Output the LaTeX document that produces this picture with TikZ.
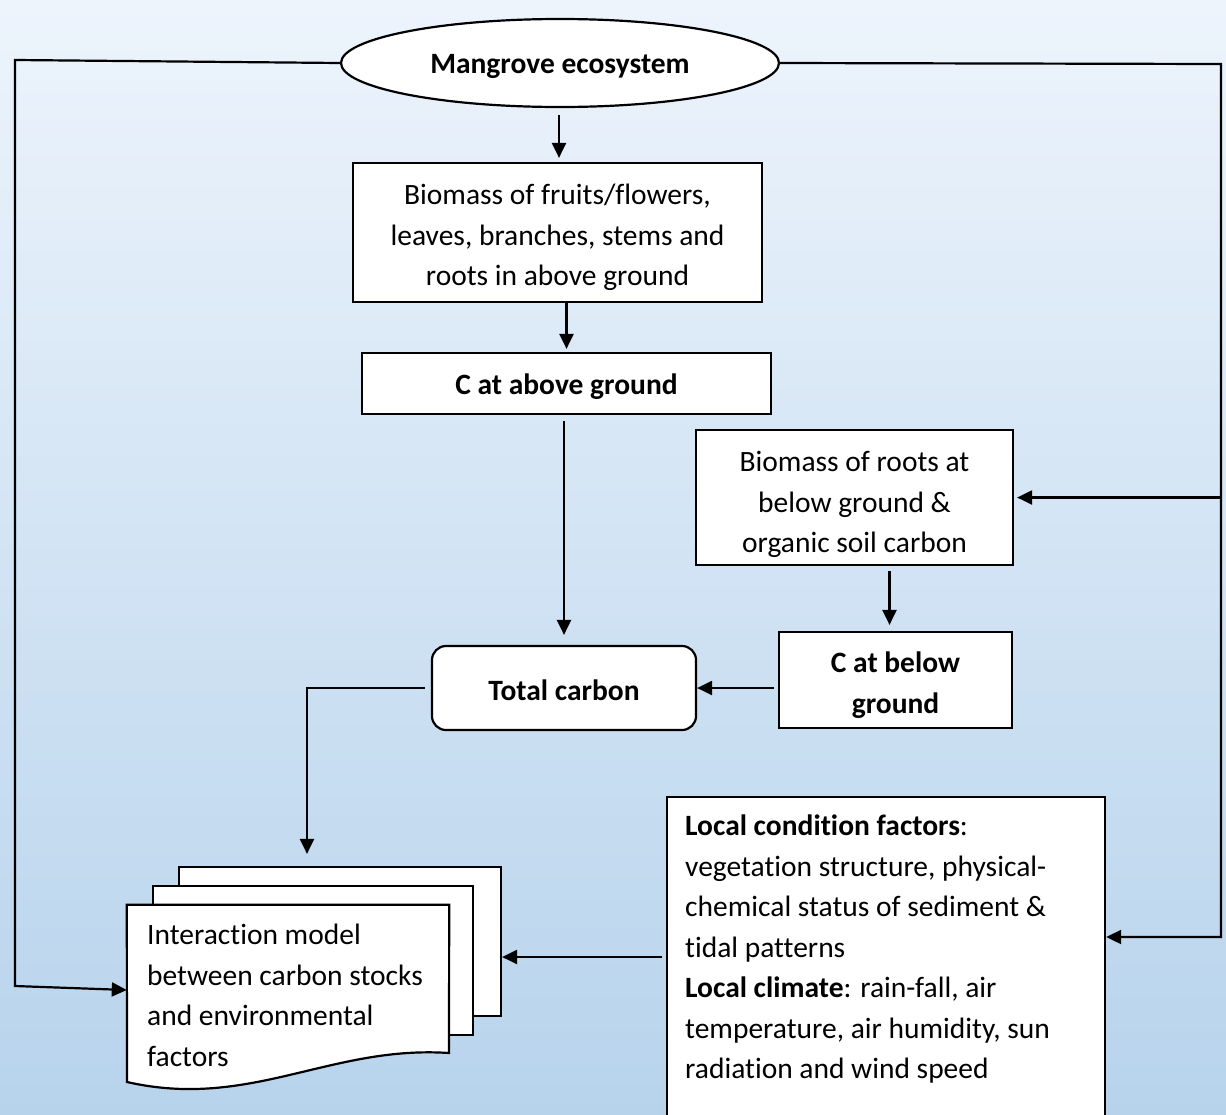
\documentclass[tikz,border=0pt]{standalone}
\usepackage{fontspec}
\setmainfont{Carlito}[Ligatures=NoCommon]
\usetikzlibrary{shapes.geometric,arrows.meta}
\definecolor{bgtop}{RGB}{237,244,252}
\definecolor{bgbot}{RGB}{183,211,236}
\begin{document}
\begin{tikzpicture}[x=1pt,y=-1pt,
  every node/.style={font=\fontsize{29.5}{40.5}\selectfont},
  bf/.style={font=\fontsize{29.5}{40.5}\selectfont\bfseries},
  ln/.style={line width=2.2pt},
  box/.style={draw, fill=white, line width=2.2pt, inner sep=0pt},
  txt/.style={align=center, inner sep=0pt},
  arr/.style={line width=2.2pt, -{Triangle[length=15pt,width=14pt]}}]
\useasboundingbox (0,0) rectangle (1226,1114);
\clip (0,0) rectangle (1226,1114);
\shade[top color=bgtop, bottom color=bgbot] (0,0) rectangle (1226,1114);

% boxes
\node[ellipse, draw, fill=white, ln, minimum width=438, minimum height=88, inner sep=0pt] (eco) at (560,63) {};
\node[txt, bf] (ecot) at ([yshift=-3pt]eco.center) {Mangrove ecosystem};
\node[box, minimum width=409, minimum height=139] (b1) at (557.5,232.5) {};
\node[txt] (b1t) at ([yshift=-5pt]b1.center) {Biomass of fruits/flowers,\\leaves, branches, stems and\\roots in above ground};
\node[box, minimum width=409, minimum height=61] (b2) at (566.5,383.5) {};
\node[txt, bf] (b2t) at ([yshift=-3pt]b2.center) {C at above ground};
\node[box, rounded corners=14pt, minimum width=264, minimum height=84] (tc) at (564,688) {};
\node[txt, bf] (tct) at ([yshift=-2pt]tc.center) {Total carbon};
\node[box, minimum width=317, minimum height=135] (b3) at (854.5,497.5) {};
\node[txt] (b3t) at ([yshift=-7pt]b3.center) {Biomass of roots at\\below ground \&\\organic soil carbon};
\node[box, minimum width=233, minimum height=96] (b4) at (895.5,680) {};
\node[txt, bf] (b4t) at ([yshift=-5pt]b4.center) {C at below\\ground};

\node[draw, fill=white, ln, anchor=north west, minimum width=438, minimum height=340, inner sep=0pt] (local) at (666,796) {};
\node[anchor=north west, align=left, inner sep=0pt] (localtxt) at (685,815) {\textbf{Local condition factors}:\\vegetation structure, physical-\\chemical status of sediment \&\\tidal patterns\\\textbf{Local climate}: rain-fall, air\\temperature, air humidity, sun\\radiation and wind speed};

% document stack
\node[draw, fill=white, ln, minimum width=322, minimum height=149, inner sep=0pt] (doc3) at (340,941.5) {};
\node[draw, fill=white, ln, minimum width=320, minimum height=149, inner sep=0pt] (doc2) at (313,960.5) {};
\node[minimum width=322, minimum height=170, inner sep=0pt] (doc1) at (288,990) {};
\draw[ln, fill=white] (doc1.north west) -- (doc1.north east) -- (449,1053) .. controls (330,1045) and (250,1110) .. (127,1082) -- cycle;
\node[anchor=north west, align=left, inner sep=0pt] (doctxt) at (147,924) {Interaction model\\between carbon stocks\\and environmental\\factors};

% connectors
\coordinate (tl) at (15,60);
\coordinate (bl) at (15,986);
\coordinate (tr) at (1221,64);
\coordinate (br) at (1221,937);
\coordinate (ly) at (0,957);

\draw[arr, shorten <=7pt, shorten >=4pt] ([xshift=-1pt]eco.south) -- ([xshift=-1pt]eco.south |- b1.north);
\draw[arr, shorten >=3pt] (b2.north |- b1.south) -- (b2.north);
\draw[arr, shorten <=6pt, shorten >=10pt] (tc.north |- b2.south) -- (tc.north);
\draw[arr, shorten <=5pt, shorten >=6pt] ([xshift=-6pt]b4.north |- b3.south) -- ([xshift=-6pt]b4.north);
\draw[arr, shorten <=4pt] (b4.west |- tc.east) -- (tc.east);
\draw[arr, shorten >=12pt] ([xshift=-6pt]tc.west) -| ([xshift=-33pt]doc3.north);
\draw[arr, shorten <=4pt] (local.west |- ly) -- (doc3.east |- ly);
\draw[arr] (eco.west) -- (tl) -- (bl) -- (doc1.west);
\draw[arr] (eco.east) -- (tr) -- (br) -- (local.east |- br);
\draw[arr, shorten >=3pt] (tr |- b3.east) -- (b3.east);
\end{tikzpicture}
\end{document}
